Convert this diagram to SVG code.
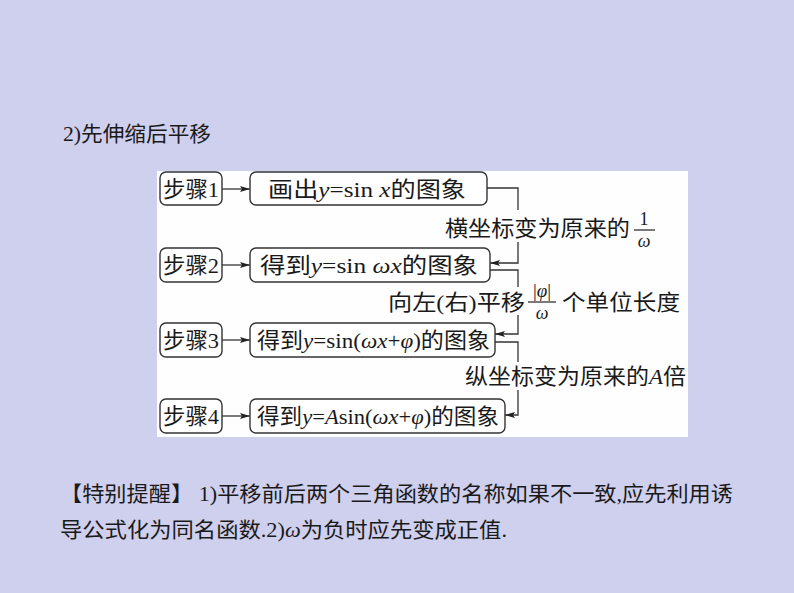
<svg xmlns="http://www.w3.org/2000/svg" width="794" height="593" viewBox="0 0 794 593">
<defs>
<marker id="ah" viewBox="0 0 10 6" refX="10" refY="3" markerWidth="10" markerHeight="6" markerUnits="userSpaceOnUse" orient="auto">
<path d="M0,0 L10,3 L0,6 L2,3 Z" fill="#222"/>
</marker>
<style>
.t{font-family:"Liberation Serif","Noto Sans CJK SC",serif;fill:#1a1a1a;}
.box{fill:#fff;stroke:#333;stroke-width:1.4;}
.ln{fill:none;stroke:#333;stroke-width:1.3;}
.i{font-style:italic;}
</style>
</defs>
<rect width="794" height="593" fill="#cfcfee"/>
<text class="t" x="63" y="141" font-size="21" textLength="148" lengthAdjust="spacingAndGlyphs">2)先伸缩后平移</text>
<rect x="157" y="171" width="531" height="266" fill="#fefefe"/>

<g id="connectors">
<line class="ln" x1="222" y1="189" x2="250" y2="189" marker-end="url(#ah)"/>
<line class="ln" x1="222" y1="265" x2="250" y2="265" marker-end="url(#ah)"/>
<line class="ln" x1="222" y1="340" x2="250" y2="340" marker-end="url(#ah)"/>
<line class="ln" x1="222" y1="416" x2="250" y2="416" marker-end="url(#ah)"/>
<path class="ln" d="M487,188 H518 V210 M518,242 V263 H490" marker-end="url(#ah)"/>
<path class="ln" d="M490,270 H518 V287 M518,315 V334 H495" marker-end="url(#ah)"/>
<path class="ln" d="M495,342 H518 V362 M518,390 V415 H505" marker-end="url(#ah)"/>
</g>

<g id="step1"><rect class="box" x="160" y="172" width="62" height="33" rx="6"/><text class="t" x="163" y="197" font-size="22" textLength="56" lengthAdjust="spacingAndGlyphs">步骤1</text></g>
<g id="step2"><rect class="box" x="160" y="248" width="62" height="34" rx="6"/><text class="t" x="163" y="273" font-size="22" textLength="56" lengthAdjust="spacingAndGlyphs">步骤2</text></g>
<g id="step3"><rect class="box" x="160" y="323" width="62" height="34" rx="6"/><text class="t" x="163" y="348" font-size="22" textLength="56" lengthAdjust="spacingAndGlyphs">步骤3</text></g>
<g id="step4"><rect class="box" x="160" y="399" width="62" height="34" rx="6"/><text class="t" x="163" y="424" font-size="22" textLength="56" lengthAdjust="spacingAndGlyphs">步骤4</text></g>

<g id="box1"><rect class="box" x="250" y="172" width="237" height="33" rx="6"/><text class="t" x="268" y="197" font-size="22" textLength="198" lengthAdjust="spacingAndGlyphs">画出<tspan class="i">y</tspan>=sin <tspan class="i">x</tspan>的图象</text></g>
<g id="box2"><rect class="box" x="250" y="248" width="240" height="34" rx="6"/><text class="t" x="260" y="273" font-size="22" textLength="218" lengthAdjust="spacingAndGlyphs">得到<tspan class="i">y</tspan>=sin <tspan class="i">ωx</tspan>的图象</text></g>
<g id="box3"><rect class="box" x="250" y="323" width="245" height="34" rx="6"/><text class="t" x="257" y="348" font-size="22" textLength="233" lengthAdjust="spacingAndGlyphs">得到<tspan class="i">y</tspan>=sin(<tspan class="i">ωx</tspan>+<tspan class="i">φ</tspan>)的图象</text></g>
<g id="box4"><rect class="box" x="250" y="399" width="255" height="34" rx="6"/><text class="t" x="257" y="424" font-size="22" textLength="242" lengthAdjust="spacingAndGlyphs">得到<tspan class="i">y</tspan>=<tspan class="i">A</tspan>sin(<tspan class="i">ωx</tspan>+<tspan class="i">φ</tspan>)的图象</text></g>

<g id="label1">
<text class="t" x="445" y="236" font-size="22" textLength="185" lengthAdjust="spacingAndGlyphs">横坐标变为原来的</text>
<text class="t" x="644" y="225" font-size="18" text-anchor="middle">1</text>
<line x1="634" y1="230" x2="655" y2="230" stroke="#222" stroke-width="1.2"/>
<text class="t i" x="644" y="247" font-size="18" text-anchor="middle">ω</text>
</g>
<g id="label2">
<text class="t" x="388" y="310" font-size="22" textLength="137" lengthAdjust="spacingAndGlyphs">向左(右)平移</text>
<text class="t" x="542" y="297" font-size="19" text-anchor="middle">|<tspan class="i">φ</tspan>|</text>
<line x1="528" y1="302" x2="556" y2="302" stroke="#222" stroke-width="1.2"/>
<text class="t i" x="542" y="319" font-size="18" text-anchor="middle">ω</text>
<text class="t" x="562" y="310" font-size="22" textLength="118" lengthAdjust="spacingAndGlyphs">个单位长度</text>
</g>
<g id="label3">
<text class="t" x="465" y="384" font-size="22" textLength="221" lengthAdjust="spacingAndGlyphs">纵坐标变为原来的<tspan class="i">A</tspan>倍</text>
</g>

<text class="t" x="60" y="501" font-size="21" textLength="673" lengthAdjust="spacingAndGlyphs">【特别提醒】 1)平移前后两个三角函数的名称如果不一致,应先利用诱</text>
<text class="t" x="60" y="537" font-size="21" textLength="447" lengthAdjust="spacingAndGlyphs">导公式化为同名函数.2)<tspan class="i">ω</tspan>为负时应先变成正值.</text>
</svg>
